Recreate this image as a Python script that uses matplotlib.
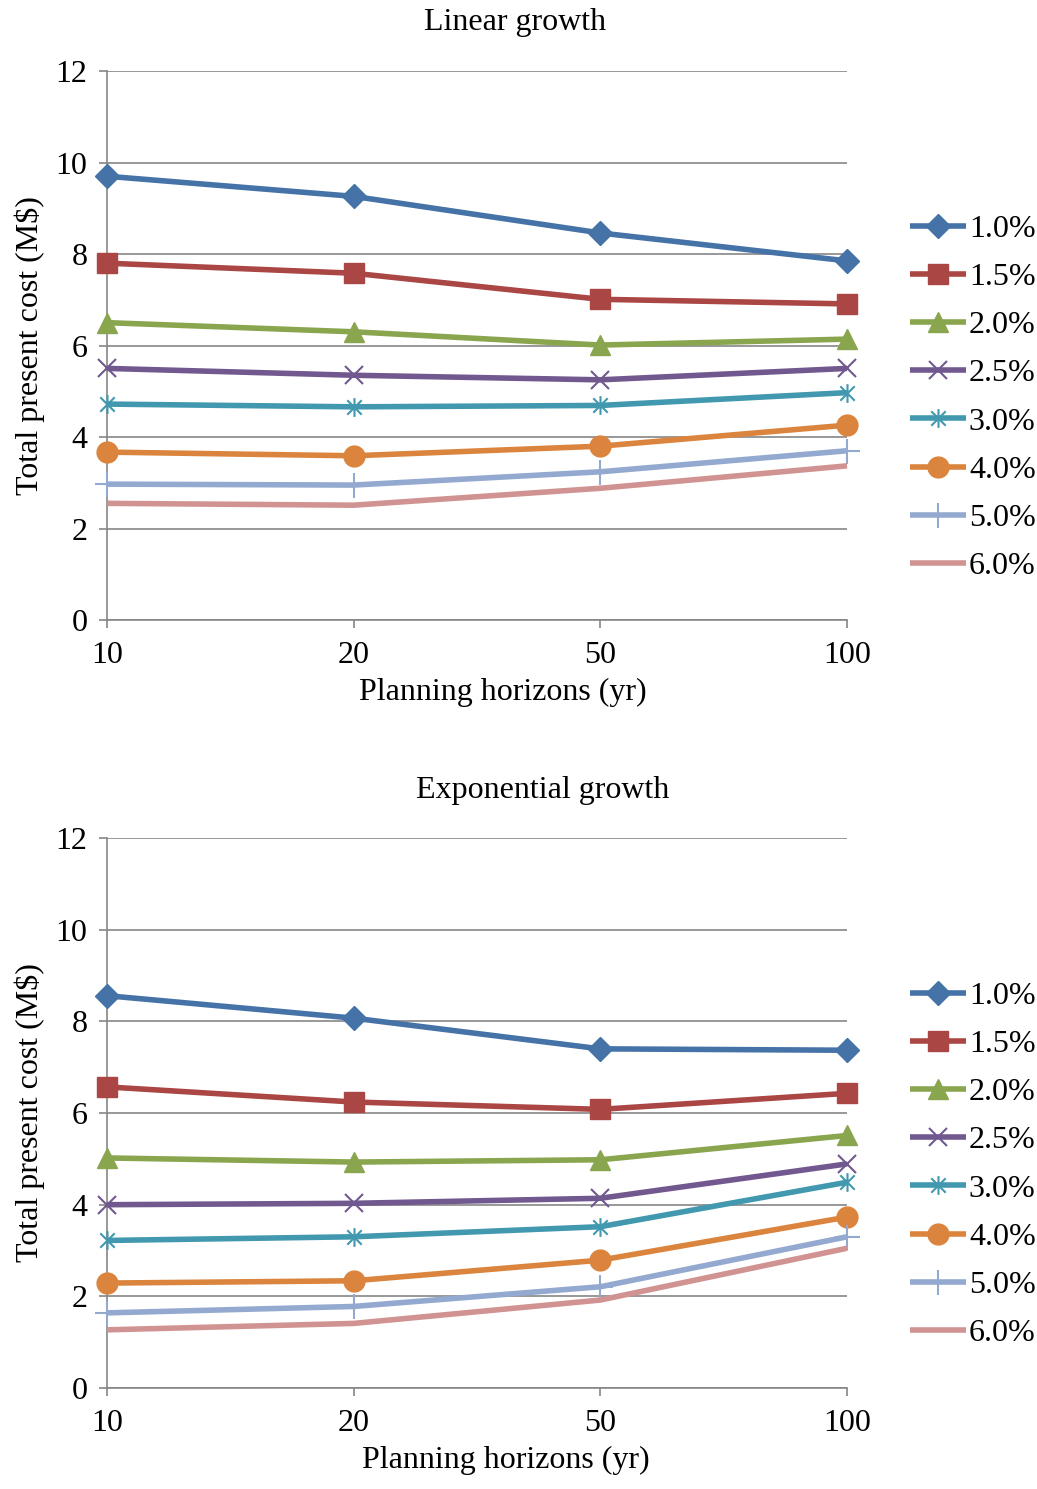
import numpy as np
import matplotlib
matplotlib.use("Agg")
import matplotlib.pyplot as plt
from matplotlib.path import Path

plt.rcParams['font.family'] = ['Liberation Serif', 'DejaVu Serif']
plt.rcParams['font.size'] = 23

horizons = ['10', '20', '50', '100']
rates = ['1.0%', '1.5%', '2.0%', '2.5%', '3.0%', '4.0%', '5.0%', '6.0%']

# total present cost (M$), linear growth
linear_1_0 = [9.70, 9.26, 8.46, 7.85]
linear_1_5 = [7.80, 7.58, 7.01, 6.91]
linear_2_0 = [6.50, 6.30, 6.01, 6.14]
linear_2_5 = [5.50, 5.35, 5.25, 5.50]
linear_3_0 = [4.72, 4.66, 4.69, 4.97]
linear_4_0 = [3.67, 3.59, 3.80, 4.26]
linear_5_0 = [2.97, 2.95, 3.24, 3.70]
linear_6_0 = [2.55, 2.51, 2.88, 3.37]

# total present cost (M$), exponential growth
expo_1_0 = [8.56, 8.07, 7.40, 7.37]
expo_1_5 = [6.57, 6.24, 6.08, 6.43]
expo_2_0 = [5.02, 4.93, 4.98, 5.51]
expo_2_5 = [4.00, 4.03, 4.14, 4.89]
expo_3_0 = [3.22, 3.30, 3.52, 4.49]
expo_4_0 = [2.29, 2.34, 2.79, 3.73]
expo_5_0 = [1.64, 1.78, 2.21, 3.30]
expo_6_0 = [1.27, 1.41, 1.92, 3.05]

linear = [linear_1_0, linear_1_5, linear_2_0, linear_2_5,
          linear_3_0, linear_4_0, linear_5_0, linear_6_0]
expo = [expo_1_0, expo_1_5, expo_2_0, expo_2_5,
        expo_3_0, expo_4_0, expo_5_0, expo_6_0]

colors = ['#4572A7', '#AA4643', '#89A54E', '#71588F',
          '#4198AF', '#DB843D', '#93A9CF', '#D19392']

# excel style asterisk: x plus vertical bar
star = Path([(-1, -1), (1, 1), (-1, 1), (1, -1), (0, -1.3), (0, 1.3)],
            [Path.MOVETO, Path.LINETO, Path.MOVETO, Path.LINETO,
             Path.MOVETO, Path.LINETO])
markers = ['D', 's', '^', 'x', star, 'o', '+', None]
msizes = [12.5, 14.5, 14.5, 13.5, 13.5, 15, 18, 0]

grey = '#868686'


def draw(ax, data, title, title_x, title_y, xlab_x, legend_top):
    x = np.arange(len(horizons))
    for vals, c, m, ms, lab in zip(data, colors, markers, msizes, rates):
        thin = isinstance(m, Path) or m in ('x', '+')
        ax.plot(x, vals, color=c, lw=4.0, marker=m, markersize=ms,
                markeredgecolor=c, markerfacecolor=c,
                markeredgewidth=1.5 if thin else 1,
                label=lab, clip_on=False, zorder=3,
                solid_capstyle='butt')
    ax.set_xlim(0, 3)
    ax.set_ylim(0, 12)
    ax.set_yticks(range(0, 13, 2))
    ax.set_xticks(x)
    ax.set_xticklabels(horizons)
    ax.yaxis.grid(True, color=grey, lw=1.2)
    ax.set_axisbelow(True)
    for s in ('top', 'right'):
        ax.spines[s].set_visible(False)
    for s in ('left', 'bottom'):
        ax.spines[s].set_color(grey)
        ax.spines[s].set_linewidth(1.2)
    ax.tick_params(axis='both', color=grey, width=1.2, length=6,
                   labelsize=23)
    ax.tick_params(axis='x', pad=9)
    ax.tick_params(axis='y', pad=8)
    ax.set_xlabel('Planning horizons (yr)', fontsize=23, labelpad=6)
    ax.xaxis.label.set_x(xlab_x)
    ax.set_ylabel('Total present cost (M$)', fontsize=23, labelpad=8)
    fig.text(title_x, title_y, title, ha='center', va='center', fontsize=23)
    ax.legend(loc='upper left', bbox_to_anchor=(0.865, legend_top),
              bbox_transform=fig.transFigure, frameon=False,
              fontsize=23, handlelength=1.75, handletextpad=0.1,
              labelspacing=0.59, borderaxespad=0)


fig = plt.figure(figsize=(10.37, 14.89), dpi=100)
ax1 = fig.add_axes([0.1032, 0.5836, 0.7136, 0.3687])
ax2 = fig.add_axes([0.1032, 0.0678, 0.7136, 0.3694])

draw(ax1, linear, 'Linear growth', 0.4966, 0.9852, 0.535, 0.8646)
draw(ax2, expo, 'Exponential growth', 0.5236, 0.4694, 0.539, 0.3495)

fig.savefig('out.png', dpi=100)
